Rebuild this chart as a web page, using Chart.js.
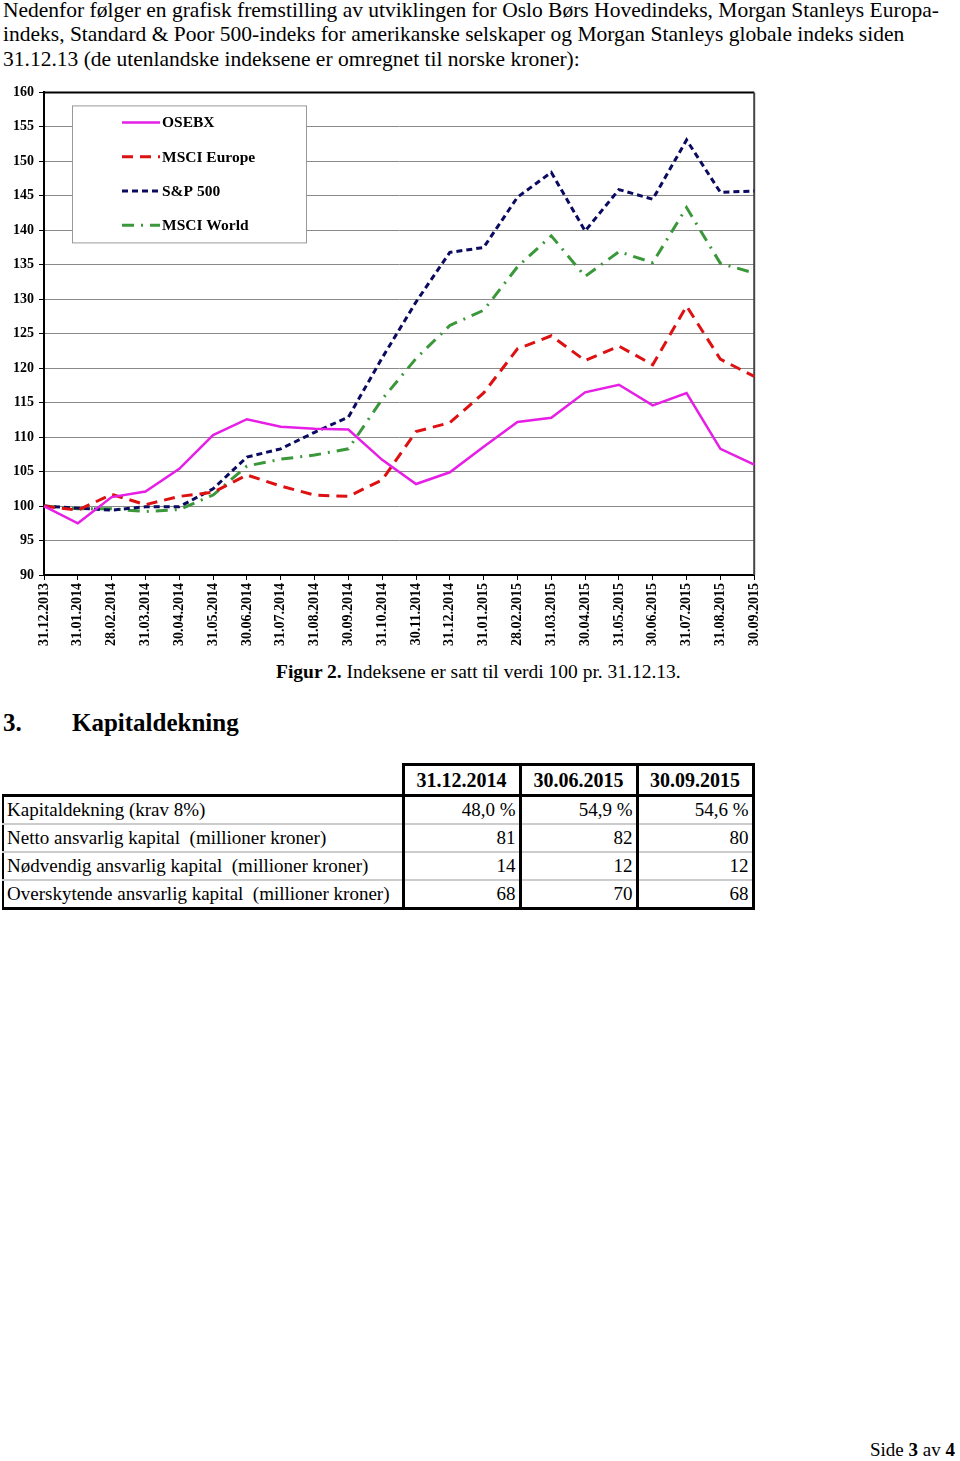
<!DOCTYPE html>
<html>
<head>
<meta charset="utf-8">
<script src="https://cdn.jsdelivr.net/npm/chart.js@4.4.1/dist/chart.umd.min.js"></script>
<style>
  body { margin: 0; width: 960px; height: 1461px; position: relative; background: #fff; font-family: "Liberation Serif", "Times New Roman", serif; color: #000; }
  .intro { position: absolute; left: 3px; top: -2px; font-size: 21.5px; line-height: 24.3px; white-space: nowrap; }
  #wrap { position: absolute; left: 0; top: 79px; width: 774px; height: 577px; }
  .caption { position: absolute; left: 276px; top: 661px; font-size: 19.5px; white-space: nowrap; }
  .heading { position: absolute; left: 3px; top: 709px; font-size: 25px; font-weight: bold; }
  .heading span { position: absolute; left: 69px; white-space: nowrap; }
  table { position: absolute; left: 2px; top: 763px; border-collapse: collapse; table-layout: fixed; width: 750px; font-size: 19px; }
  td { height: 26px; padding: 0 3px; white-space: nowrap; overflow: hidden; }
  th { height: 28px; font-weight: bold; font-size: 20px; border: 3px solid #000; text-align: center; padding: 0; }
  td.lbl { border-left: 2px solid #000; border-bottom: 2px solid #ccc; }
  td.num { text-align: right; border-left: 3px solid #000; border-right: 3px solid #000; border-bottom: 2px solid #ccc; }
  tr.first td { border-top: 3px solid #000; }
  tr.last td { border-bottom: 3px solid #000; }
  .side { position: absolute; left: 870px; top: 1439px; font-size: 19px; white-space: nowrap; }
</style>
</head>
<body>
<div class="intro">
  <div>Nedenfor følger en grafisk fremstilling av utviklingen for Oslo Børs Hovedindeks, Morgan Stanleys Europa-</div>
  <div>indeks, Standard &amp; Poor 500-indeks for amerikanske selskaper og Morgan Stanleys globale indeks siden</div>
  <div>31.12.13 (de utenlandske indeksene er omregnet til norske kroner):</div>
</div>

<div id="wrap"><canvas id="myChart" width="774" height="577"></canvas></div>

<div class="caption"><b>Figur 2.</b> Indeksene er satt til verdi 100 pr. 31.12.13.</div>
<div class="heading">3.<span>Kapitaldekning</span></div>

<table>
  <colgroup><col style="width:400px"><col style="width:117px"><col style="width:117px"><col style="width:116px"></colgroup>
  <tr><td></td><th>31.12.2014</th><th>30.06.2015</th><th>30.09.2015</th></tr>
  <tr class="first"><td class="lbl">Kapitaldekning (krav 8%)</td><td class="num">48,0 %</td><td class="num">54,9 %</td><td class="num">54,6 %</td></tr>
  <tr><td class="lbl">Netto ansvarlig kapital &nbsp;(millioner kroner)</td><td class="num">81</td><td class="num">82</td><td class="num">80</td></tr>
  <tr><td class="lbl">Nødvendig ansvarlig kapital &nbsp;(millioner kroner)</td><td class="num">14</td><td class="num">12</td><td class="num">12</td></tr>
  <tr class="last"><td class="lbl">Overskytende ansvarlig kapital &nbsp;(millioner kroner)</td><td class="num">68</td><td class="num">70</td><td class="num">68</td></tr>
</table>

<div class="side">Side <b>3</b> av <b>4</b></div>

<script>
// dates on the x axis
const labels = ["31.12.2013", "31.01.2014", "28.02.2014", "31.03.2014", "30.04.2014", "31.05.2014",
  "30.06.2014", "31.07.2014", "31.08.2014", "30.09.2014", "31.10.2014", "30.11.2014", "31.12.2014",
  "31.01.2015", "28.02.2015", "31.03.2015", "30.04.2015", "31.05.2015", "30.06.2015", "31.07.2015",
  "31.08.2015", "30.09.2015"];

// index values (100 = 31.12.13)
const osebx = [100, 97.5, 101.3, 102.1, 105.4, 110.3, 112.6, 111.5, 111.2, 111.1, 106.7, 103.2,
  104.9, 108.6, 112.2, 112.8, 116.5, 117.6, 114.6, 116.4, 108.3, 106.0];
const msciEurope = [100, 99.4, 101.7, 100.2, 101.4, 102.0, 104.5, 102.9, 101.6, 101.4, 103.8, 110.8,
  112.1, 116.4, 122.8, 124.7, 121.1, 123.2, 120.5, 129.0, 121.3, 118.8];
const sp500 = [100, 99.7, 99.4, 99.9, 99.9, 102.5, 107.1, 108.3, 110.7, 112.9, 121.5, 129.6,
  136.8, 137.5, 144.8, 148.4, 139.9, 145.9, 144.5, 153.1, 145.5, 145.7];
const msciWorld = [100, 99.6, 99.6, 99.2, 99.5, 101.6, 105.8, 106.8, 107.4, 108.3, 115.5, 121.4,
  126.2, 128.4, 134.7, 139.2, 133.3, 136.9, 135.3, 143.3, 135.2, 133.8];

// y axis tick labels
const yTicks = [90, 95, 100, 105, 110, 115, 120, 125, 130, 135, 140, 145, 150, 155, 160];

const tickFont = { family: "'Liberation Serif', serif", size: 14, weight: "bold" };

// frame on top/right of the plot area + legend box inside the plot
const framePlugin = {
  id: "frame",
  beforeDatasetsDraw(chart) {
    const { ctx, chartArea: a } = chart;
    ctx.save();
    ctx.strokeStyle = "#000";
    ctx.lineWidth = 2;
    ctx.beginPath();
    ctx.moveTo(a.left, a.top);
    ctx.lineTo(a.right, a.top);
    ctx.stroke();
    ctx.strokeStyle = "#444";
    ctx.beginPath();
    ctx.moveTo(a.right, a.top);
    ctx.lineTo(a.right, a.bottom);
    ctx.stroke();

    // legend
    const bx = a.left + 28, by = a.top + 13, bw = 234, bh = 137;
    ctx.fillStyle = "#fff";
    ctx.fillRect(bx, by, bw, bh);
    ctx.strokeStyle = "#999";
    ctx.lineWidth = 1;
    ctx.strokeRect(bx + 0.5, by + 0.5, bw, bh);
    ctx.font = "bold 15.5px 'Liberation Serif', serif";
    ctx.textBaseline = "middle";
    chart.data.datasets.forEach((ds, i) => {
      const y = by + 17 + i * 34.3;
      ctx.strokeStyle = ds.borderColor;
      ctx.lineWidth = ds.borderWidth;
      ctx.setLineDash(ds.borderDash || []);
      ctx.beginPath();
      ctx.moveTo(bx + 50, y);
      ctx.lineTo(bx + 88, y);
      ctx.stroke();
      ctx.setLineDash([]);
      ctx.fillStyle = "#000";
      ctx.fillText(ds.label, bx + 90, y + 1);
    });
    ctx.restore();
  }
};

const ctx = document.getElementById("myChart").getContext("2d");
new Chart(ctx, {
  type: "line",
  data: {
    labels: labels,
    datasets: [
      { label: "OSEBX", data: osebx, borderColor: "#e61ee6", borderWidth: 2.5 },
      { label: "MSCI Europe", data: msciEurope, borderColor: "#dd1111", borderWidth: 3, borderDash: [11, 7] },
      { label: "S&P 500", data: sp500, borderColor: "#0a0a60", borderWidth: 3, borderDash: [6, 4] },
      { label: "MSCI World", data: msciWorld, borderColor: "#3a983a", borderWidth: 3, borderDash: [12, 7, 2, 7] }
    ]
  },
  options: {
    responsive: false,
    animation: false,
    elements: { point: { radius: 0 }, line: { tension: 0, fill: false } },
    layout: { padding: { top: 7, right: 12, left: 0, bottom: 0 } },
    plugins: { legend: { display: false }, tooltip: { enabled: false } },
    scales: {
      x: {
        offset: false,
        grid: { drawOnChartArea: false, drawTicks: true, tickLength: 5, tickColor: "#000" },
        border: { color: "#000", width: 2 },
        ticks: { autoSkip: false, maxRotation: 90, minRotation: 90, color: "#000", font: tickFont, padding: 3 },
        afterFit(scale) { scale.height = 81; }
      },
      y: {
        min: 90,
        max: 160,
        afterBuildTicks(scale) { scale.ticks = yTicks.map(v => ({ value: v })); },
        grid: { color: "#8a8a8a", lineWidth: 1, tickLength: 5, tickColor: "#000" },
        border: { color: "#000", width: 2 },
        ticks: { color: "#000", font: tickFont, padding: 5 },
        afterFit(scale) { scale.width = 44; }
      }
    }
  },
  plugins: [framePlugin]
});
</script>
</body>
</html>
